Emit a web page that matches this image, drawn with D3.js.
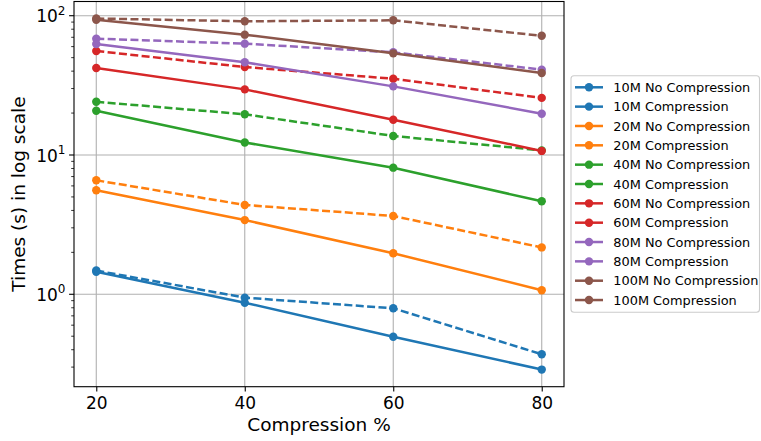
<!DOCTYPE html>
<html><head><meta charset="utf-8">
<script src="https://cdn.jsdelivr.net/npm/d3@7"></script>
<style>body{margin:0;background:#fff;} svg{display:block;font-family:"DejaVu Sans",sans-serif;}</style>
</head><body>
<svg id="c" width="761" height="441"></svg>
<script>
const categories = [20, 40, 60, 80];
const sizes = ["10M", "20M", "40M", "60M", "80M", "100M"];
const colors = ["#1f77b4", "#ff7f0e", "#2ca02c", "#d62728", "#9467bd", "#8c564b"];
const noCompression = [
  [1.48, 0.946, 0.793, 0.371],
  [6.58, 4.38, 3.65, 2.17],
  [24.1, 19.6, 13.7, 10.8],
  [55.8, 42.8, 35.3, 25.7],
  [68.4, 63.0, 54.6, 41.0],
  [95.5, 91.2, 92.7, 71.8]
];
const compression = [
  [1.45, 0.87, 0.496, 0.288],
  [5.58, 3.41, 1.97, 1.07],
  [20.8, 12.3, 8.11, 4.65],
  [42.1, 29.6, 17.9, 10.7],
  [62.6, 46.3, 31.1, 19.8],
  [93.5, 73.1, 53.7, 38.8]
];
const xTicks = [20, 40, 60, 80];
const yMajor = [1, 10, 100];
const yExp = ["0", "1", "2"];
const xLabel = "Compression %";
const yLabel = "Times (s) in log scale";

const svg = d3.select("#c");
const L = 74, R = 564, T = 1.5, B = 386.7;
const x = d3.scaleLinear().domain([17, 83]).range([L, R]);
const y = d3.scaleLog().domain([0.217, 126.5]).range([B, T]);

// grid
const g = svg.append("g");
g.selectAll("line.gx").data(xTicks).join("line")
  .attr("x1", d => x(d)).attr("x2", d => x(d)).attr("y1", T).attr("y2", B)
  .attr("stroke", "#b0b0b0").attr("stroke-width", 1.1);
g.selectAll("line.gy").data(yMajor).join("line")
  .attr("y1", d => y(d)).attr("y2", d => y(d)).attr("x1", L).attr("x2", R)
  .attr("stroke", "#b0b0b0").attr("stroke-width", 1.1);

// series
const series = [];
sizes.forEach((s, i) => {
  series.push({name: s + " No Compression", vals: noCompression[i], color: colors[i], dash: "8,3.4"});
  series.push({name: s + " Compression", vals: compression[i], color: colors[i], dash: null});
});
const line = d3.line().x((d, i) => x(categories[i])).y(d => y(d));
svg.append("clipPath").attr("id", "clp").append("rect")
  .attr("x", L).attr("y", T).attr("width", R - L).attr("height", B - T);
const plot = svg.append("g").attr("clip-path", "url(#clp)");
series.forEach(s => {
  const gg = plot.append("g");
  gg.append("path").datum(s.vals).attr("d", line).attr("fill", "none")
    .attr("stroke", s.color).attr("stroke-width", 2.5)
    .attr("stroke-dasharray", s.dash);
  gg.selectAll("circle").data(s.vals).join("circle")
    .attr("cx", (d, i) => x(categories[i])).attr("cy", d => y(d)).attr("r", 4.2)
    .attr("fill", s.color);
});

// spines
svg.append("rect").attr("x", L).attr("y", T).attr("width", R - L).attr("height", B - T)
  .attr("fill", "none").attr("stroke", "#000").attr("stroke-width", 1.1);

// x axis ticks
const xa = svg.append("g").attr("transform", `translate(0,${B})`)
  .call(d3.axisBottom(x).tickValues(xTicks).tickSize(4.9).tickPadding(3).tickFormat(d3.format("d")));
xa.select(".domain").remove();
xa.selectAll("line").attr("stroke-width", 1.1);
xa.selectAll("text").attr("font-size", 17).attr("font-family", "DejaVu Sans").attr("fill", "#000")
  .attr("dy", null).attr("y", 22.6);

// y axis ticks
const ya = svg.append("g").attr("transform", `translate(${L},0)`);
yMajor.forEach((v, i) => {
  ya.append("line").attr("x1", -4.9).attr("x2", 0).attr("y1", y(v)).attr("y2", y(v))
    .attr("stroke", "#000").attr("stroke-width", 1.1);
  const t = ya.append("text").attr("x", -8.5).attr("y", y(v) + 6.5).attr("text-anchor", "end")
    .attr("font-size", 17).attr("fill", "#000");
  t.append("tspan").text("10");
  t.append("tspan").attr("dy", -7.5).attr("font-size", 12).text(yExp[i]);
});
const minor = [];
[0.1, 1, 10].forEach(b => { for (let k = 2; k <= 9; k++) { const v = b * k; if (v >= 0.217 && v <= 126.5) minor.push(v); } });
ya.selectAll("line.mn").data(minor).join("line").attr("class", "mn")
  .attr("x1", -2.8).attr("x2", 0).attr("y1", d => y(d)).attr("y2", d => y(d))
  .attr("stroke", "#000").attr("stroke-width", 0.8);

// axis labels
svg.append("text").attr("x", (L + R) / 2).attr("y", 431).attr("text-anchor", "middle")
  .attr("font-size", 18.5).attr("fill", "#000").text(xLabel);
svg.append("text").attr("transform", `translate(25,${(T + B) / 2}) rotate(-90)`)
  .attr("text-anchor", "middle").attr("font-size", 18.5).attr("fill", "#000").text(yLabel);

// legend
const lg = svg.append("g");
lg.append("rect").attr("x", 571).attr("y", 75.7).attr("width", 188.5).attr("height", 236.6)
  .attr("rx", 3).attr("fill", "#fff").attr("fill-opacity", 0.8)
  .attr("stroke", "#cccccc").attr("stroke-width", 1.1);
series.forEach((s, i) => {
  const yy = 87.3 + i * 19.34;
  lg.append("line").attr("x1", 575).attr("x2", 603).attr("y1", yy).attr("y2", yy)
    .attr("stroke", s.color).attr("stroke-width", 2.5);
  lg.append("circle").attr("cx", 589).attr("cy", yy).attr("r", 4.2).attr("fill", s.color);
  lg.append("text").attr("x", 613.3).attr("y", yy + 4.7).attr("font-size", 12.9)
    .attr("fill", "#000").text(s.name);
});
</script>
</body></html>
